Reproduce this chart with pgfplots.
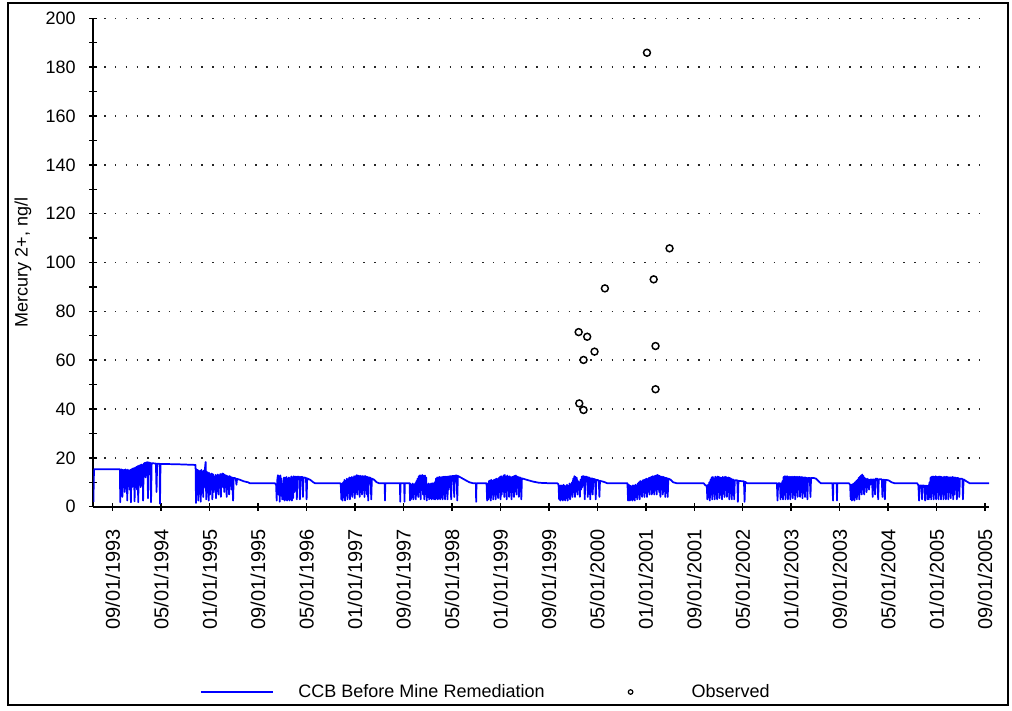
\documentclass[border=0pt]{standalone}
\usepackage{fontspec}
\setmainfont{Liberation Sans}
\usepackage{pgfplots}
\pgfplotsset{compat=1.18}
\begin{document}
\begin{tikzpicture}
\useasboundingbox (-69.975pt,-152.475pt) rectangle (689.025pt,380.025pt);
\draw[line width=1.5pt] (-63.975pt,-148.725pt) rectangle (686.025pt,377.775pt);
\begin{axis}[
  at={(0,0)}, anchor=south west,
  scale only axis, width=672pt, height=366.3pt,
  xmin=4.934, xmax=151.82, ymin=0, ymax=200,
  axis x line=bottom, axis y line=left,
  axis line style={-, black, line width=1.4pt},
  xtick={8.115,16.060,24.005,31.950,39.895,47.840,55.785,63.729,71.674,79.619,87.564,95.509,103.454,111.399,119.344,127.289,135.234,143.179,151.124},
  xticklabels={09/01/1993,05/01/1994,01/01/1995,09/01/1995,05/01/1996,01/01/1997,09/01/1997,05/01/1998,01/01/1999,09/01/1999,05/01/2000,01/01/2001,09/01/2001,05/01/2002,01/01/2003,09/01/2003,05/01/2004,01/01/2005,09/01/2005},
  minor x tick num=1,
  ytick={0,20,...,200}, minor y tick num=1,
  tick align=center, major tick length=6pt, minor tick length=6pt,
  tick style={black, line width=1.1pt},
  ymajorgrids,
  major grid style={black!85, line width=1.1pt, dash pattern=on 1.1pt off 7pt},
  /pgf/number format/assume math mode=true,
  yticklabel style={font=\fontsize{13.5pt}{16pt}\selectfont, anchor=east, inner sep=0pt},
  yticklabel shift=10pt,
  xticklabel style={font=\fontsize{15pt}{18pt}\selectfont, rotate=90, anchor=east, inner sep=0pt},
  xticklabel shift=13.7pt,
  ylabel={Mercury 2+, ng/l},
  every axis y label/.style={at={(axis description cs:-0.0785,0.5)}, rotate=90, anchor=center, font=\fontsize{13.5pt}{16pt}\selectfont},
  legend style={at={(axis description cs:0.1191,-0.3794)}, anchor=west, draw=none, fill=none, inner sep=0pt,
    font=\fontsize{13.5pt}{16pt}\selectfont, nodes={inner sep=0pt},
    /tikz/every odd column/.append style={column sep=18.75pt},
    /tikz/every even column/.append style={column sep=37.5pt}},
  legend columns=2, legend cell align=left,
]
\addplot[blue, line width=1.3pt, line join=round,
  legend image code/.code={\draw[blue, line width=0.9pt] (0pt,0pt) -- (54pt,0pt);}]
coordinates {
(4.95,2)(5.05,15.3)(9.3,15.3)
(9.35,1.8)(9.4,15.2)(9.6,15.2)(9.7,4)(9.8,15.1)(9.9,8)(10.0,15.0)(10.1,6)(10.2,15.3)(10.3,8)(10.4,15.0)(10.5,2.5)(10.6,15.2)(10.7,9)(10.8,14.8)(10.9,7)(11.0,15.1)(11.1,1.8)(11.2,15.3)(11.3,8)(11.4,15.6)(11.5,9)(11.6,15.8)(11.7,2.2)(11.8,16.0)(11.9,8)(12.0,16.3)(12.1,7)(12.2,16.6)(12.3,1.8)(12.4,16.8)(12.5,9)(12.6,17.0)(12.7,8)(12.8,17.3)(12.9,10)(13.0,17.1)(13.1,2.5)(13.2,17.6)(13.4,17.9)(13.5,12)(13.6,18.1)(13.8,18.2)(13.9,3.5)(14.0,18.1)(14.3,17.9)(14.4,1.8)(14.5,17.8)(15.2,17.7)(15.3,6)(15.4,17.6)(15.8,17.6)(15.87,1.2)(15.95,17.5)
(18.5,17.4)(21.7,17.1)
(21.77,1.5)(21.85,15.3)(21.95,5)(22.05,15.0)(22.15,2.5)(22.25,14.8)(22.35,7)(22.45,14.6)(22.55,2)(22.65,15.1)(22.75,6)(22.85,14.3)(22.95,4)(23.05,14.8)(23.15,8)(23.25,16)(23.35,18.3)(23.45,3)(23.55,14.3)(23.65,6)(23.75,14.0)(23.85,2.5)(23.95,13.8)(24.05,5)(24.15,13.3)(24.25,7)(24.35,13.6)(24.45,3)(24.55,13.3)(24.65,6)(24.75,12.3)(24.85,8)(24.95,13.0)(25.05,3.5)(25.15,12.8)(25.25,7)(25.35,13.2)(25.45,5)(25.55,12.8)(25.65,9)(25.75,13.4)(25.85,4)(25.95,13.3)(26.05,8)(26.15,13.6)(26.3,13.3)(26.4,6)(26.5,13.0)(26.6,8)(26.7,12.8)(26.8,4)(26.9,12.6)(27.0,9)(27.1,12.4)(27.2,5)(27.3,12.6)(27.4,9)(27.5,12.2)(27.6,7)(27.7,12.0)(27.85,2.5)(27.95,11.8)(28.3,11.6)(28.4,9)(28.5,11.4)(29.0,11.0)(29.6,10.4)(30.3,10.0)(30.6,9.6)
(34.7,9.6)(34.9,9.0)(35.0,2.5)(35.1,11)(35.2,12.9)(35.3,5)(35.4,12.5)(35.5,2)(35.6,12.8)(35.7,6)(35.8,11.5)(35.9,3)(36.0,8)(36.1,3)(36.2,12.0)(36.3,2.5)(36.4,11.8)(36.5,3)(36.6,12.2)(36.7,2.5)(36.8,11.5)(36.9,3)(37.0,12.0)(37.1,2.5)(37.2,11.6)(37.3,3)(37.4,12.4)(37.5,2.5)(37.6,12.0)(37.7,3.5)(37.8,12.5)(37.9,6)(38.0,12.3)(38.2,12.3)(38.3,3)(38.4,12.3)(38.7,12.3)(38.8,3)(38.9,12.2)(39.2,12.2)(39.3,4)(39.4,12)(39.8,11.8)(39.9,3)(40.0,11.6)(40.5,11)(41.0,10)(41.3,9.6)
(45.4,9.6)(45.5,9.2)(45.6,3)(45.7,9.5)(45.8,2.5)(45.9,10)(46.0,4)(46.1,11)(46.2,2.5)(46.3,10.5)(46.4,5)(46.5,11.5)(46.6,3)(46.7,11.2)(46.8,6)(46.9,12)(47.0,3)(47.1,11.8)(47.2,5)(47.3,12.2)(47.4,4)(47.5,12.0)(47.6,6)(47.7,12.5)(47.8,3.5)(47.9,12.4)(48.0,6)(48.1,12.9)(48.2,5)(48.3,12.8)(48.4,7)(48.5,12.6)(48.6,4)(48.7,12.7)(48.8,6)(48.9,12.5)(49.0,5)(49.1,12.6)(49.2,7)(49.3,12.4)(49.4,4)(49.5,12.6)(49.6,7)(49.7,12.3)(49.8,5)(49.9,12.2)(50.0,2.5)(50.1,12.0)(50.4,11.8)(50.5,3)(50.6,11.5)(51.0,11)(51.4,10)(51.8,9.6)(52.7,9.6)(52.75,2.5)(52.8,9.6)
(55.2,9.6)(55.25,2)(55.3,9.6)(55.9,9.6)(55.95,2)(56.0,9.6)(56.8,9.6)(56.85,2.5)(56.9,9.5)(57.0,3)(57.1,9)(57.2,4)(57.3,9.5)(57.4,3)(57.5,9)(57.6,6)(57.7,9.6)(57.8,3)(57.9,10.5)(58.0,5)(58.1,11.5)(58.2,4)(58.3,12.5)(58.4,6)(58.5,12.9)(58.6,3)(58.7,12.8)(58.8,7)(58.9,13.0)(59.0,5)(59.1,12.6)(59.2,3)(59.3,12.8)(59.4,6)(59.5,12.0)(59.6,2.5)(59.7,9)(59.8,4)(59.9,9.5)(60.0,3)(60.1,9.2)(60.2,3.5)(60.3,9.5)(60.4,3)(60.5,9.6)(60.6,3.5)(60.7,9.5)(60.8,3)(60.9,10)(61.0,3)(61.1,11.5)(61.2,3.5)(61.3,12.0)(61.4,3)(61.5,12.0)(61.6,3.5)(61.7,12.2)(61.8,3)(61.9,12.0)(62.0,4)(62.1,12.2)(62.2,3)(62.3,12.3)(62.4,5)(62.5,12.3)(62.6,3)(62.7,12.3)(62.8,6)(62.9,12.3)(63.0,3)(63.1,12.4)(63.2,7)(63.3,12.4)(63.5,12.5)(63.6,3)(63.7,12.5)(64.0,12.6)(64.1,4)(64.2,12.7)(64.5,12.8)(64.6,2.5)(64.7,12.6)(65.0,12.2)(65.5,11.5)(66.0,10.8)(66.6,10)(67.2,9.6)
(67.65,9.6)(67.7,2)(67.75,9.6)(69.4,9.6)(69.5,2.5)(69.6,9.5)(69.7,3)(69.8,10.5)(69.9,4)(70.0,10.8)(70.1,2.5)(70.2,11)(70.3,5)(70.4,10.5)(70.5,3)(70.6,11)(70.7,6)(70.8,11.2)(70.9,3)(71.0,11.5)(71.1,5)(71.2,11.3)(71.3,3.5)(71.4,11.8)(71.5,6)(71.6,12.2)(71.7,3)(71.8,12.5)(71.9,5)(72.0,12.0)(72.1,7)(72.2,12.8)(72.3,4)(72.4,13.0)(72.5,6)(72.6,12.2)(72.7,3)(72.8,12.8)(72.9,7)(73.0,12.3)(73.1,4)(73.2,12.5)(73.3,6)(73.4,12.0)(73.5,3)(73.6,12.2)(73.7,6)(73.8,12.4)(73.9,4)(74.0,12.6)(74.1,7)(74.2,12.8)(74.3,5)(74.4,12.4)(74.5,8)(74.6,12.2)(74.7,4)(74.8,12.0)(75.0,11.8)(75.1,3)(75.2,11.6)(75.5,11.4)(76.0,11)(77,10.3)(78,9.8)(79.8,9.6)
(81.0,9.6)(81.2,9.2)(81.3,3)(81.4,8.5)(81.5,2.5)(81.6,8.8)(81.7,3)(81.8,8.5)(81.9,2.5)(82.0,9)(82.1,3)(82.2,8.6)(82.3,2.5)(82.4,8.4)(82.5,3.5)(82.6,9)(82.7,2.5)(82.8,8.5)(82.9,4)(83.0,9.5)(83.1,3)(83.2,9.2)(83.3,5)(83.4,10)(83.5,4)(83.6,11.5)(83.7,6)(83.8,12.5)(83.9,4)(84.0,12.2)(84.1,7)(84.2,11.8)(84.3,5)(84.4,10.5)(84.5,7)(84.6,10)(84.7,4)(84.8,11)(84.9,7)(85.0,12.3)(85.1,8)(85.2,12.5)(85.4,12.4)(85.5,3)(85.6,12.3)(85.9,12.2)(86.0,4)(86.1,12)(86.3,11.8)(86.4,3)(86.5,11.5)(86.7,11.6)(86.8,5)(86.9,11.4)(87.2,11.2)(87.3,3)(87.4,11)(87.8,10.8)(87.9,4)(88.0,10.6)(88.6,10.2)(89.2,9.6)
(92.5,9.6)(92.6,2.5)(92.7,9)(92.8,8.5)(92.9,2.5)(93.0,8.6)(93.1,3)(93.2,8.4)(93.3,2.5)(93.4,8.8)(93.5,3)(93.6,8.5)(93.7,2.5)(93.8,9)(93.9,4)(94.0,8.7)(94.1,3)(94.2,9.5)(94.3,5)(94.4,10)(94.5,3)(94.6,10.5)(94.7,5)(94.8,10.2)(94.9,4)(95.0,10.8)(95.1,6)(95.2,11)(95.3,4)(95.4,11.2)(95.5,6)(95.6,11.5)(95.7,4)(95.8,11.3)(95.9,7)(96.0,11.8)(96.1,5)(96.2,12)(96.3,7)(96.4,12.2)(96.5,5)(96.6,12.5)(96.7,6)(96.8,12.4)(96.9,5)(97.0,12.6)(97.1,7)(97.2,12.8)(97.3,5)(97.4,13)(97.5,8)(97.6,12.8)(97.7,6)(97.8,12.6)(97.9,4)(98.0,12.4)(98.1,7)(98.2,12.3)(98.3,5)(98.4,12.2)(98.5,8)(98.6,12.0)(98.7,4)(98.8,11.8)(99.0,11.6)(99.1,4)(99.2,11.5)(99.6,11)(100.0,10)(100.6,9.6)
(105.0,9.6)(105.3,8.7)(105.5,8.7)(105.6,3)(105.7,9)(105.8,4)(105.9,10)(106.0,2.5)(106.1,11)(106.2,5)(106.3,12)(106.4,3)(106.5,12.2)(106.6,6)(106.7,11.5)(106.8,3)(106.9,12.3)(107.0,5)(107.1,12.0)(107.2,3)(107.3,12.4)(107.4,6)(107.5,12.2)(107.6,3.5)(107.7,12.0)(107.8,5)(107.9,11.8)(108.0,3)(108.1,12.2)(108.2,6)(108.3,12.0)(108.4,4)(108.5,12.3)(108.6,7)(108.7,12.1)(108.8,4)(108.9,11.9)(109.0,6)(109.1,12.0)(109.2,3)(109.3,11.8)(109.4,6)(109.5,11.5)(109.6,3)(109.7,11.2)(109.9,11)(110.0,3)(110.1,10.8)(110.5,10.8)(110.6,2)(110.7,10.6)(111.0,10.5)(111.6,10.4)(111.7,2)(111.8,10.2)(112.1,9.6)
(117.0,9.6)(117.1,2.5)(117.2,9.6)(117.5,9.6)(117.6,3)(117.7,9.5)(117.8,4)(117.9,10.5)(118.0,3)(118.1,12.2)(118.2,5)(118.3,12.5)(118.4,3)(118.5,12.4)(118.6,6)(118.7,12.5)(118.8,3)(118.9,12.2)(119.0,5)(119.1,12.3)(119.2,3)(119.3,12.2)(119.4,6)(119.5,12.3)(119.6,3.5)(119.7,12.2)(119.8,5)(119.9,12.3)(120.0,3)(120.1,12.2)(120.2,6)(120.3,12.3)(120.4,4)(120.5,12.2)(120.6,7)(120.7,12.3)(120.8,4)(120.9,12.1)(121.0,6)(121.1,12.2)(121.2,3.5)(121.3,12.0)(121.4,7)(121.5,12.0)(121.6,4)(121.7,12.0)(121.8,8)(121.9,11.8)(122.0,3)(122.1,11.8)(122.4,11.8)(122.5,4)(122.6,11.8)(123.0,11.8)(123.4,11.5)(123.8,10.5)(124.2,9.6)(126.1,9.6)(126.2,2.5)(126.25,9.6)(126.8,9.6)(126.85,2.5)(126.9,9.6)
(128.8,9.6)(129.0,9)(129.1,3)(129.2,9)(129.3,2.5)(129.4,9.2)(129.5,3)(129.6,9.5)(129.7,2.5)(129.8,10)(129.9,4)(130.0,10.5)(130.1,3)(130.2,11)(130.3,5)(130.4,11.8)(130.5,3)(130.6,12.3)(130.7,6)(130.8,12.8)(130.9,5)(131.0,13.2)(131.1,7)(131.2,12.6)(131.3,5)(131.4,11.8)(131.5,8)(131.6,11.3)(131.7,6)(131.8,11.5)(131.9,8)(132.0,11.2)(132.1,7)(132.2,11.0)(132.3,9)(132.4,11.2)(132.6,11)(132.7,4)(132.8,11.2)(133.0,11)(133.1,5)(133.2,11.5)(133.5,11.4)(133.6,3)(133.7,11.2)(134.2,11.2)(134.3,4)(134.4,11.0)(134.6,11)(134.7,3)(134.8,11)(135.3,10.8)(135.8,10)(136.3,9.6)
(140.0,9.6)(140.2,8.7)(140.3,2.5)(140.4,8.7)(140.7,8.7)(140.8,3)(140.9,8.7)(141.2,8.6)(141.3,2.5)(141.4,8.6)(141.6,8.5)(141.7,3)(141.8,8.7)(141.9,3)(142.0,10)(142.1,4)(142.2,12)(142.3,3)(142.4,12.3)(142.5,6)(142.6,12.4)(142.7,3)(142.8,12.2)(142.9,5)(143.0,12.5)(143.1,3)(143.2,12.3)(143.3,6)(143.4,12.2)(143.5,3)(143.6,12.4)(143.7,5)(143.8,12.3)(143.9,3)(144.0,12.2)(144.1,6)(144.2,12.0)(144.3,3)(144.4,12.3)(144.5,5)(144.6,12.2)(144.7,3)(144.8,12.3)(144.9,6)(145.0,12.2)(145.1,3)(145.2,12.0)(145.3,6)(145.4,12.1)(145.5,3.5)(145.6,12.0)(145.7,6)(145.8,12.2)(145.9,3)(146.0,12.0)(146.1,5)(146.2,12.0)(146.3,7)(146.4,11.8)(146.5,3)(146.6,11.8)(146.8,11.6)(146.9,4)(147.0,11.5)(147.4,11.4)(147.5,3)(147.6,11.2)(148.0,10.5)(148.6,9.6)(151.8,9.6)
};
\addlegendentry{CCB Before Mine Remediation}
\addplot[only marks, mark=o, mark size=2.6pt, black, line width=1.1pt,
  legend image code/.code={\path[draw=none] (0pt,0pt) -- (54pt,0pt); \draw[black, line width=0.9pt] (27pt,0pt) circle (1.7pt);}]
coordinates {
(95.7,185.9)(99.4,105.8)(96.8,93.1)(88.8,89.4)(84.5,71.5)(85.9,69.6)(87.1,63.5)(85.3,60.1)(97.1,65.8)(97.1,48.1)(84.6,42.3)(85.3,39.6)
};
\addlegendentry{Observed}
\end{axis}
\end{tikzpicture}
\end{document}
